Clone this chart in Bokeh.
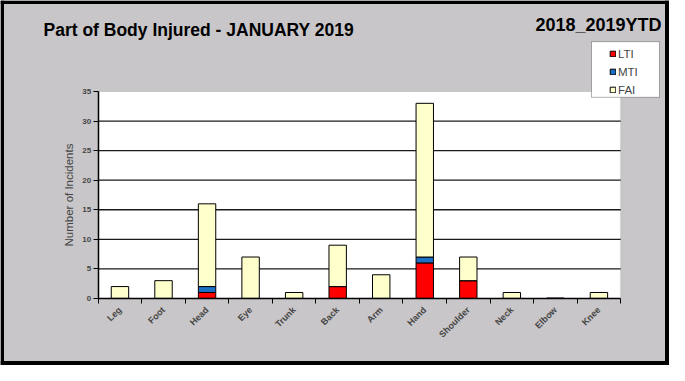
from bokeh.plotting import figure
from bokeh.models import Label, FixedTicker, Range1d, ColumnDataSource, BoxAnnotation
from bokeh.embed import file_html
from bokeh.resources import INLINE

# ---- data ----
categories = ["Leg", "Foot", "Head", "Eye", "Trunk", "Back", "Arm", "Hand",
              "Shoulder", "Neck", "Elbow", "Knee"]
lti = [0, 0, 1, 0, 0, 2, 0, 6, 3, 0, 0, 0]
mti = [0, 0, 1, 0, 0, 0, 0, 1, 0, 0, 0, 0]
fai = [2, 3, 14, 7, 1, 7, 4, 26, 4, 1, 0, 1]
series = ["LTI", "MTI", "FAI"]
series_colors = ["#FF0000", "#1C6FC4", "#FFFFCC"]
y_ticks = [0, 5, 10, 15, 20, 25, 30, 35]
title_text = "Part of Body Injured  - JANUARY  2019"
ytd_text = "2018_2019YTD"
y_label = "Number of Incidents"

FONT = "Liberation Sans"
BG = "#C8C6C8"

# ---- layout (canvas pixels, origin top-left) ----
W, H = 669, 365
FL, FR, FT, FB = 97.7, 620.2, 91.0, 297.9   # plotting box edges
BW = 3.5                                     # outer black border width
n = len(categories)
YMAX = y_ticks[-1]
x_per = (FR - FL) / n
y_per = (FB - FT) / YMAX


def px_x(px):
    return (px - FL) / x_per


def px_y(py):
    return (FB - py) / y_per


xs = [i + 0.5 for i in range(n)]
source = ColumnDataSource(dict(x=xs, LTI=lti, MTI=mti, FAI=fai))

p = figure(width=W, height=H, output_backend="svg", toolbar_location=None,
           title=None,
           x_range=Range1d(px_x(0), px_x(W)), y_range=Range1d(px_y(H), px_y(0)),
           min_border_left=0, min_border_right=0,
           min_border_top=0, min_border_bottom=0)
p.background_fill_color = BG
p.border_fill_color = BG
p.outline_line_color = None
p.xgrid.visible = False
p.ygrid.visible = False

# outer black border: four filled strips
for l, r, t, b in [(0, W, 0, BW), (0, W, H - BW - 1, H), (0, BW, 0, H), (W - BW - 1, W, 0, H)]:
    p.add_layout(BoxAnnotation(left=px_x(l), right=px_x(r), top=px_y(t), bottom=px_y(b),
                               fill_color="black", fill_alpha=1, line_color=None,
                               level="overlay"))
# white plotting box with grey outline
p.add_layout(BoxAnnotation(left=0, right=n, bottom=0, top=YMAX,
                           fill_color="white", fill_alpha=1,
                           line_color="#8C8C8C", line_width=1, level="underlay"))
# legend box
p.add_layout(BoxAnnotation(left=px_x(591), right=px_x(659),
                           top=px_y(41.2), bottom=px_y(96.8),
                           fill_color="white", fill_alpha=1,
                           line_color="black", line_width=1, level="underlay"))

# horizontal grid lines
grid_y = y_ticks[1:-1]
p.segment(x0=[0] * len(grid_y), x1=[n] * len(grid_y), y0=grid_y, y1=grid_y,
          line_color="#1a1a1a", line_width=1.3)

p.vbar_stack(series, x="x", width=0.4, source=source,
             fill_color=series_colors, line_color="black", line_width=1,
             legend_label=series)

# y axis
yax = p.yaxis[0]
yax.fixed_location = 0
yax.bounds = (0, YMAX)
yax.ticker = FixedTicker(ticks=y_ticks)
yax.axis_line_color = "black"
yax.axis_line_width = 1.5
yax.major_tick_out = 5
yax.major_tick_in = 0
yax.minor_tick_line_color = None
yax.major_label_text_font = FONT
yax.major_label_text_font_style = "bold"
yax.major_label_text_font_size = "8px"
yax.major_label_standoff = 2
yax.axis_label = y_label
yax.axis_label_text_font = FONT
yax.axis_label_text_font_style = "normal"
yax.axis_label_text_font_size = "11.5px"
yax.axis_label_standoff = 5

# x axis: labels at category centres, tick marks at category boundaries
xax = p.xaxis[0]
xax.fixed_location = 0
xax.bounds = (0, n)
xax.ticker = FixedTicker(ticks=xs, minor_ticks=list(range(n + 1)))
xax.major_label_overrides = {x: c for x, c in zip(xs, categories)}
xax.major_tick_line_color = None
xax.major_tick_out = 0
xax.major_tick_in = 0
xax.minor_tick_out = 5
xax.minor_tick_in = 0
xax.minor_tick_line_color = "black"
xax.axis_line_color = "black"
xax.axis_line_width = 1.5
xax.major_label_orientation = 0.785398
xax.major_label_text_font = FONT
xax.major_label_text_font_style = "bold"
xax.major_label_text_font_size = "9px"
xax.major_label_standoff = 5

# legend
lg = p.legend[0]
lg.location = (609, H - 96.4)
lg.border_line_color = None
lg.background_fill_alpha = 0
lg.glyph_width = 7
lg.glyph_height = 7
lg.label_standoff = 2
lg.label_text_font = FONT
lg.label_text_font_size = "11.5px"
lg.label_height = 13
lg.spacing = 5
lg.padding = 3
lg.margin = 0
lg.item_background_fill_alpha = 0

# titles
p.add_layout(Label(x=43, y=H - 29.7, x_units="screen", y_units="screen",
                   text=title_text, text_font=FONT, text_font_style="bold",
                   text_font_size="17.5px", text_color="black",
                   text_baseline="alphabetic", text_align="left"))
p.add_layout(Label(x=661, y=H - 24, x_units="screen", y_units="screen",
                   text=ytd_text, text_font=FONT, text_font_style="bold",
                   text_font_size="18px", text_color="black",
                   text_baseline="alphabetic", text_align="right"))

open("out.html", "w").write(file_html(p, INLINE))
